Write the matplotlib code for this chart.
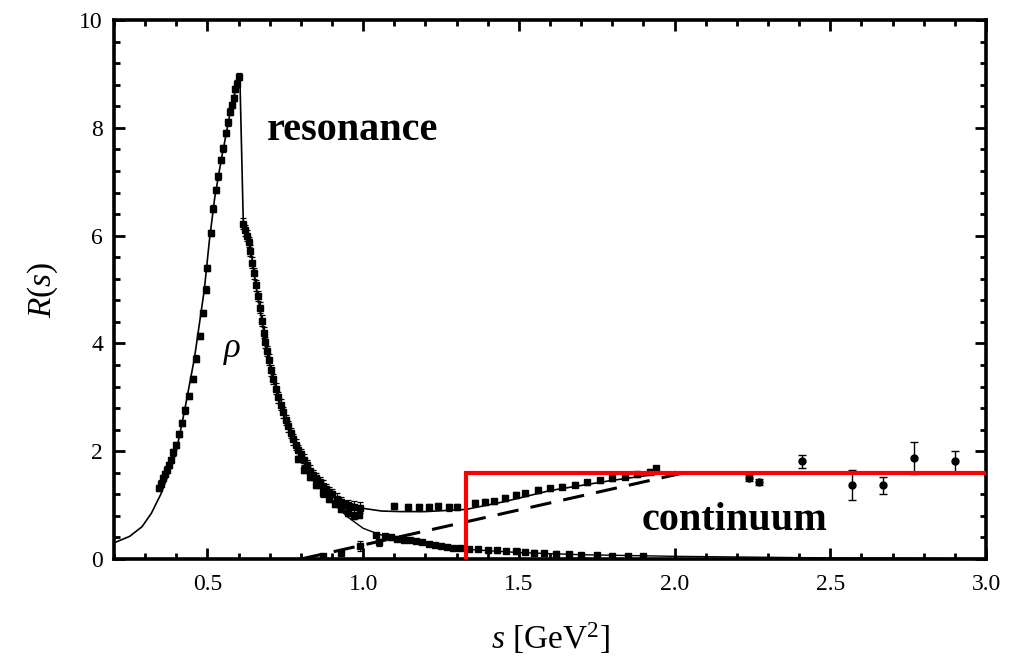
import matplotlib
matplotlib.use("Agg")
import matplotlib.pyplot as plt
from matplotlib.ticker import MultipleLocator

plt.rcParams['font.family'] = ['Liberation Serif', 'DejaVu Serif']
plt.rcParams['mathtext.fontset'] = 'custom'
plt.rcParams['mathtext.rm'] = 'Liberation Serif'
plt.rcParams['mathtext.it'] = 'Liberation Serif:italic'

# ---- model curves ----
s_total = [0.20, 0.25, 0.29, 0.32, 0.35, 0.38, 0.40, 0.426, 0.458, 0.49, 0.506, 0.523,
           0.545, 0.571, 0.59, 0.600, 0.604, 0.615, 0.64, 0.655, 0.667, 0.70, 0.728,
           0.76, 0.80, 0.856, 0.91, 1.00, 1.06, 1.12, 1.20, 1.33, 1.45, 1.60, 1.80, 2.00]
R_total = [0.30, 0.42, 0.60, 0.85, 1.20, 1.65, 2.00, 2.74, 3.72, 5.00, 5.90, 6.69,
           7.43, 8.22, 8.70, 8.90, 8.96, 6.26, 5.70, 5.10, 4.68, 3.60, 2.98,
           2.43, 1.90, 1.44, 1.15, 0.94, 0.89, 0.88, 0.88, 0.92, 1.06, 1.27, 1.46, 1.62]

s_rho = [0.80, 0.85, 0.90, 0.95, 1.00, 1.05, 1.10, 1.20, 1.33, 1.50, 1.70, 2.00, 2.50, 3.00]
R_rho = [1.88, 1.42, 1.05, 0.78, 0.57, 0.46, 0.38, 0.27, 0.18, 0.12, 0.08, 0.05, 0.02, 0.01]

s_cont = [0.80, 2.03, 3.00]
R_cont = [0.00, 1.60, 1.60]

s_red = [1.33, 1.33, 3.00]
R_red = [0.00, 1.60, 1.60]

# ---- data points ----
s_data = [0.345, 0.352, 0.358, 0.364, 0.370, 0.376, 0.382, 0.390, 0.398, 0.408, 0.418,
          0.428, 0.440, 0.452, 0.464, 0.476, 0.486, 0.496, 0.500, 0.510, 0.518, 0.526,
          0.534, 0.542, 0.550, 0.558, 0.565, 0.572, 0.578, 0.584, 0.590, 0.596, 0.602,
          0.615, 0.620, 0.626, 0.632, 0.638, 0.644, 0.650, 0.656, 0.662, 0.668, 0.674,
          0.680, 0.686, 0.692, 0.698, 0.705, 0.712, 0.720, 0.728, 0.736, 0.744, 0.752,
          0.760, 0.768, 0.776, 0.784, 0.792, 0.800, 0.810, 0.820, 0.830, 0.840, 0.850,
          0.860, 0.870, 0.880, 0.890, 0.900, 0.915, 0.930, 0.950, 0.970, 0.990,
          1.100, 1.145, 1.180, 1.210, 1.240, 1.275, 1.300,
          1.360, 1.390, 1.420, 1.455, 1.490, 1.520, 1.560, 1.600, 1.640, 1.680, 1.720,
          1.760, 1.800, 1.840, 1.880, 1.920, 1.940]
R_data = [1.32, 1.40, 1.50, 1.58, 1.66, 1.74, 1.84, 1.98, 2.12, 2.32, 2.52,
          2.76, 3.02, 3.34, 3.72, 4.14, 4.56, 5.00, 5.40, 6.05, 6.50, 6.85,
          7.10, 7.40, 7.62, 7.90, 8.10, 8.30, 8.42, 8.55, 8.72, 8.82, 8.95,
          6.22, 6.10, 6.00, 5.88, 5.72, 5.50, 5.30, 5.08, 4.88, 4.66, 4.42,
          4.20, 4.02, 3.86, 3.70, 3.50, 3.34, 3.16, 3.00, 2.86, 2.72, 2.58,
          2.46, 2.34, 2.22, 2.12, 2.02, 1.94, 1.84, 1.74, 1.64, 1.56, 1.50,
          1.42, 1.36, 1.30, 1.24, 1.20, 1.12, 1.06, 1.00, 0.97, 0.95,
          0.98, 0.97, 0.96, 0.97, 0.98, 0.96, 0.97,
          1.04, 1.06, 1.07, 1.13, 1.19, 1.22, 1.28, 1.31, 1.34, 1.38, 1.42,
          1.46, 1.50, 1.53, 1.57, 1.62, 1.68]
E_data = [0.06] * 33 + [0.10] * 43 + [0.06] * 7 + [0.05] * 17

s_band = [0.79, 0.81, 0.83, 0.85, 0.87, 0.89, 0.91, 0.93, 0.95, 0.97, 0.985]
R_band = [1.86, 1.66, 1.52, 1.38, 1.22, 1.12, 1.02, 0.93, 0.86, 0.80, 0.82]
E_band = [0.06, 0.06, 0.06, 0.06, 0.06, 0.06, 0.06, 0.06, 0.06, 0.06, 0.06]

s_low = [1.04, 1.07, 1.09, 1.11, 1.13, 1.15, 1.17, 1.19, 1.21, 1.23, 1.25, 1.27, 1.29,
         1.31, 1.34, 1.37, 1.40, 1.43, 1.46, 1.49, 1.52, 1.55, 1.58, 1.62, 1.66, 1.70,
         1.75, 1.80, 1.85, 1.90]
R_low = [0.45, 0.42, 0.40, 0.38, 0.36, 0.35, 0.33, 0.31, 0.28, 0.26, 0.24, 0.22, 0.21,
         0.20, 0.19, 0.18, 0.17, 0.16, 0.15, 0.14, 0.13, 0.12, 0.11, 0.10, 0.09, 0.08,
         0.07, 0.06, 0.05, 0.05]
E_low = [0.04] * 30

s_4pi = [0.87, 0.93, 0.99, 1.05]
R_4pi = [0.06, 0.12, 0.24, 0.31]
E_4pi = [0.03, 0.05, 0.10, 0.06]

s_high = [2.24, 2.27, 2.41, 2.57, 2.67, 2.77, 2.90]
R_high = [1.50, 1.43, 1.81, 1.38, 1.37, 1.87, 1.81]
E_high = [0.05, 0.05, 0.12, 0.28, 0.16, 0.30, 0.20]

fig = plt.figure(figsize=(10.31, 6.64), dpi=100)
ax = fig.add_axes([0.1106, 0.1581, 0.8458, 0.8117])

ax.plot(s_total, R_total, color='black', lw=1.2, zorder=3)
ax.plot(s_rho, R_rho, color='black', lw=1.0, zorder=3)
ax.plot(s_cont, R_cont, color='black', lw=2.2, dashes=(7, 4), zorder=3)

kw = dict(fmt='s', color='black', ms=4.3, elinewidth=0.9, capsize=2.5, capthick=0.9, zorder=4)
ax.errorbar(s_data, R_data, yerr=E_data, **kw)
ax.errorbar(s_band, R_band, yerr=E_band, **kw)
ax.errorbar(s_low, R_low, yerr=E_low, **kw)
ax.errorbar(s_4pi, R_4pi, yerr=E_4pi, **kw)
ax.errorbar(s_high, R_high, yerr=E_high, fmt='o', color='black', ms=5,
            elinewidth=1.0, capsize=3, capthick=1.0, zorder=4)

ax.plot(s_red, R_red, color='#ff0000', lw=3.0, zorder=5, solid_joinstyle='miter')

ax.text(0.69, 7.95, 'resonance', fontsize=29, fontweight='bold', va='center', ha='left')
ax.text(1.895, 0.72, 'continuum', fontsize=29, fontweight='bold', va='center', ha='left')
ax.text(0.58, 3.87, r'$\rho$', fontsize=25, va='center', ha='center')

ax.set_xlim(0.2, 3.0)
ax.set_ylim(0, 10)
ax.xaxis.set_major_locator(MultipleLocator(0.5))
ax.xaxis.set_minor_locator(MultipleLocator(0.1))
ax.yaxis.set_major_locator(MultipleLocator(2))
ax.yaxis.set_minor_locator(MultipleLocator(0.4))
ax.set_xticks([0.5, 1.0, 1.5, 2.0, 2.5, 3.0])
ax.set_xticklabels(['0.5', '1.0', '1.5', '2.0', '2.5', '3.0'])
ax.tick_params(which='both', direction='in', top=True, right=True, width=2.0)
ax.tick_params(which='major', length=8, labelsize=17)
ax.tick_params(axis='x', which='major', pad=11)
ax.tick_params(axis='y', which='major', pad=8)
ax.tick_params(which='minor', length=4.5)
for sp in ax.spines.values():
    sp.set_linewidth(2.6)

ax.set_xlabel(r'$s$ [GeV$^2$]', fontsize=24, labelpad=18)
ax.set_ylabel(r'$R(s)$', fontsize=24, labelpad=14)

fig.savefig('out.png', dpi=100)
